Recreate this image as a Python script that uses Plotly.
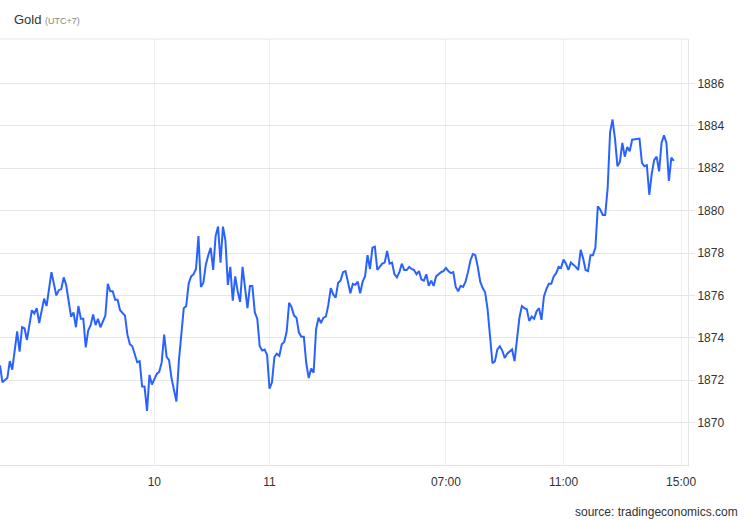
import plotly.graph_objects as go

# sample index (5-minute steps) and gold price
idx = [0, 1, 3, 4, 5, 7, 8, 9, 10, 11, 13, 14, 15, 16, 18, 19, 21, 23, 24, 25,
       26, 27, 29, 30, 31, 32, 33, 34, 35, 36, 37, 38, 39, 40, 41, 43, 44, 45, 46, 47,
       48, 49, 51, 52, 53, 54, 56, 57, 58, 59, 60, 61, 62, 63, 64, 65, 66, 67, 68, 69,
       70, 72, 73, 75, 76, 77, 78, 79, 80, 81, 82, 83, 84, 85, 86, 87, 88, 89, 90, 91,
       92, 93, 94, 95, 96, 97, 98, 99, 100, 101, 102, 103, 104, 105, 106, 107, 108, 109, 110, 111,
       112, 113, 114, 115, 116, 117, 118, 119, 120, 121, 122, 123, 124, 125, 126, 127, 128, 129, 130, 131,
       132, 133, 134, 135, 136, 137, 138, 139, 140, 141, 142, 143, 144, 145, 146, 147, 148, 149, 150, 151,
       152, 153, 154, 155, 156, 157, 158, 159, 160, 161, 162, 163, 164, 165, 166, 167, 168, 169, 170, 171,
       172, 173, 174, 175, 176, 177, 178, 179, 180, 181, 182, 183, 184, 185, 186, 187, 188, 189, 190, 191,
       192, 193, 194, 195, 196, 197, 198, 199, 200, 201, 202, 203, 204, 205, 206, 207, 208, 209, 210, 211,
       212, 213, 214, 215, 216, 217, 218, 219, 220, 221, 222, 223, 224, 225, 226, 227, 228, 229, 230, 231,
       232, 233, 234, 235, 236, 237, 238, 239, 240, 241, 242, 243, 244, 245, 246, 247, 248, 249, 250, 251,
       252, 253, 254, 255, 256, 257, 258, 260, 261, 262, 263, 264, 265, 266, 267, 268, 269, 270, 271, 272,
       273, 274, 275]
price = [1872.7, 1871.9, 1872.1, 1872.9, 1872.5, 1874.3, 1873.35, 1874.5, 1874.45, 1873.9,
         1875.3, 1875.15, 1875.4, 1874.7, 1875.85, 1875.5, 1877.1, 1876.0, 1876.25, 1876.3,
         1876.85, 1876.5, 1875.0, 1875.2, 1874.5, 1875.5, 1874.9, 1874.9, 1873.55, 1874.35,
         1874.6, 1875.1, 1874.6, 1874.9, 1874.5, 1875.05, 1876.55, 1876.2, 1876.2, 1875.8,
         1875.8, 1875.3, 1875.05, 1874.15, 1873.7, 1873.6, 1872.85, 1872.9, 1871.7, 1871.7,
         1870.55, 1872.25, 1871.8, 1872.05, 1872.3, 1872.4, 1872.85, 1874.15, 1873.1, 1872.95,
         1872.1, 1871.0, 1872.9, 1875.4, 1875.5, 1876.55, 1876.9, 1877.0, 1877.25, 1878.8,
         1876.4, 1876.6, 1877.45, 1877.9, 1878.25, 1877.2, 1878.8, 1879.25, 1877.55, 1879.25,
         1878.6, 1876.5, 1877.35, 1875.75, 1876.9, 1876.2, 1875.7, 1877.35, 1876.2, 1875.4,
         1876.45, 1876.45, 1875.2, 1874.9, 1873.6, 1873.4, 1873.45, 1873.2, 1871.6, 1871.9,
         1873.1, 1873.25, 1873.15, 1873.7, 1873.8, 1874.3, 1875.65, 1875.45, 1875.05, 1874.95,
         1874.25, 1874.05, 1874.05, 1872.8, 1872.1, 1872.55, 1872.35, 1874.4, 1874.95, 1874.7,
         1874.95, 1875.0, 1875.55, 1876.35, 1876.05, 1875.9, 1876.6, 1876.7, 1877.1, 1877.15,
         1876.65, 1876.1, 1876.55, 1876.5, 1876.65, 1876.1, 1876.65, 1876.9, 1877.9, 1877.25,
         1878.25, 1878.3, 1877.2, 1877.35, 1877.5, 1877.55, 1878.1, 1877.5, 1877.55, 1877.0,
         1876.85, 1877.1, 1877.5, 1877.2, 1877.2, 1877.35, 1877.25, 1877.2, 1877.0, 1877.15,
         1876.75, 1876.7, 1877.0, 1876.45, 1876.7, 1876.45, 1876.9, 1877.0, 1877.1, 1877.15,
         1877.3, 1877.15, 1877.05, 1877.1, 1876.4, 1876.2, 1876.45, 1876.4, 1876.65, 1877.1,
         1877.65, 1877.95, 1877.9, 1877.35, 1876.65, 1876.35, 1876.15, 1875.35, 1873.9, 1872.8,
         1872.9, 1873.45, 1873.6, 1873.4, 1873.05, 1873.25, 1873.35, 1873.45, 1872.9, 1874.1,
         1874.95, 1875.5, 1875.4, 1875.35, 1874.8, 1875.0, 1874.9, 1875.25, 1875.4, 1874.85,
         1875.95, 1876.3, 1876.55, 1876.55, 1876.9, 1877.05, 1877.35, 1877.3, 1877.7, 1877.5,
         1877.2, 1877.55, 1877.45, 1877.35, 1877.2, 1878.15, 1877.75, 1877.2, 1877.15, 1877.9,
         1877.9, 1878.25, 1880.2, 1880.05, 1879.8, 1879.8, 1881.05, 1883.7, 1884.3, 1883.4,
         1882.1, 1882.3, 1883.2, 1882.55, 1883.0, 1882.8, 1883.35, 1883.4, 1883.4, 1882.25,
         1882.1, 1882.15, 1880.75, 1881.75, 1882.4, 1882.55, 1881.85, 1883.2, 1883.55, 1883.2,
         1881.4, 1882.5, 1882.35]

x_tick_pos = [63, 110, 182, 230, 278]
x_tick_text = ["10", "11", "07:00", "11:00", "15:00"]
y_ticks = [1870, 1872, 1874, 1876, 1878, 1880, 1882, 1884, 1886]

FONT = "Liberation Sans, Arial, sans-serif"

fig = go.Figure()
fig.add_trace(go.Scatter(
    x=idx, y=price, mode="lines",
    line=dict(color="#2962ff", width=2),
    hoverinfo="skip", showlegend=False,
))

fig.update_layout(
    width=750, height=520,
    margin=dict(l=0, r=62, t=39, b=55),
    paper_bgcolor="white", plot_bgcolor="white",
    font=dict(family=FONT, size=12, color="#333333"),
    xaxis=dict(
        range=[0, 280.8],
        tickvals=x_tick_pos, ticktext=x_tick_text,
        showgrid=True, gridcolor="#edf0f4", gridwidth=1,
        showline=True, linecolor="#e2e2e2", linewidth=1,
        ticks="outside", ticklen=6, tickcolor="rgba(0,0,0,0)",
        zeroline=False, fixedrange=True,
    ),
    yaxis=dict(
        range=[1868, 1888.1], side="right",
        tickvals=y_ticks,
        showgrid=True, gridcolor="#e6e6e6", gridwidth=1,
        showline=True, linecolor="#e6e6e6", linewidth=1,
        ticks="outside", ticklen=6, tickcolor="#e6e6e6",
        zeroline=False, fixedrange=True,
    ),
    shapes=[dict(type="line", xref="paper", yref="paper", x0=0, x1=1, y0=1, y1=1,
                 line=dict(color="#e6e6e6", width=1))],
    annotations=[
        dict(text="Gold <span style='font-size:9px;color:#888888'>(UTC+7)</span>",
             xref="paper", yref="paper", x=12 / 688, y=1 + 19 / 426,
             xanchor="left", yanchor="middle", showarrow=False,
             font=dict(family=FONT, size=13, color="#333333")),
        dict(text="source: tradingeconomics.com",
             xref="paper", yref="paper", x=740 / 688, y=-(512 - 465) / 426,
             xanchor="right", yanchor="middle", showarrow=False,
             font=dict(family=FONT, size=12, color="#333333")),
    ],
)

fig.write_html(
    "out.html",
    config={"displayModeBar": False},
    post_script="document.body.style.margin='0';document.body.style.padding='0';",
)
